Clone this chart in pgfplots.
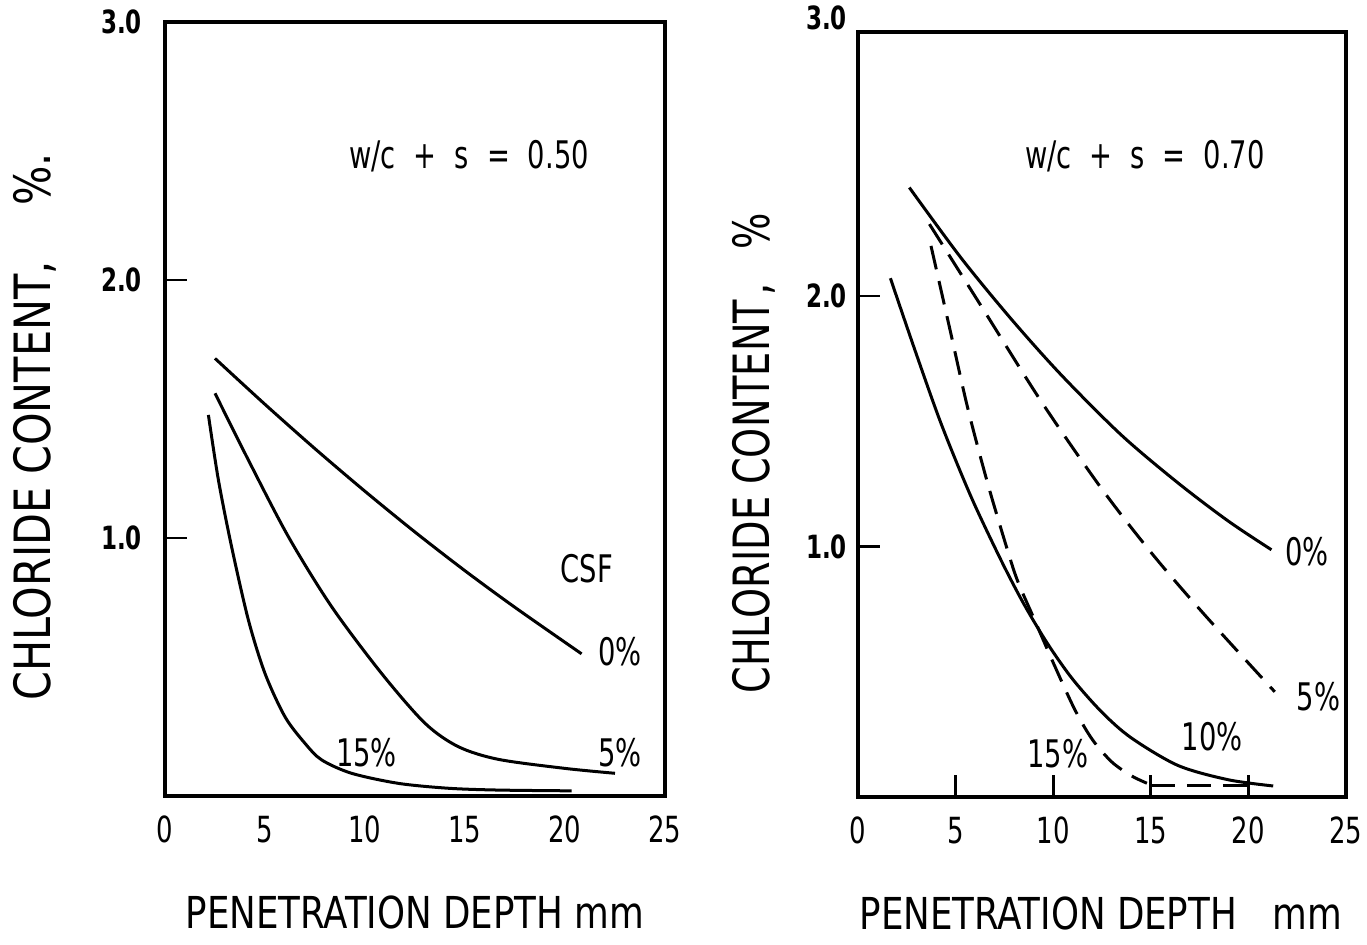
\documentclass[border=0pt]{standalone}
\usepackage{fontspec}
\setmainfont{DejaVu Sans Condensed}[FakeStretch=0.8]
\newfontfamily\xlabfont{DejaVu Sans Condensed}[FakeStretch=0.9]
\newfontfamily\ylabfontA{DejaVu Sans Condensed}[FakeStretch=0.92]
\newfontfamily\ylabfontB{DejaVu Sans Condensed}[FakeStretch=0.85]
\usepackage{pgfplots}
\pgfplotsset{compat=1.18}

\pgfplotsset{
  profile/.style={
    scale only axis,
    xmin=0, xmax=25, ymin=0,
    axis line style={line width=1.7pt},
    tick align=inside, xtick pos=bottom, ytick pos=left,
    major tick length=11pt,
    tick style={line width=1.4pt, black},
    xtick={0,5,...,25},
    xticklabels={0,5,10,15,20,25},
    ytick={1,2}, yticklabels={1.0,2.0},
    /pgf/number format/assume math mode=true,
    xticklabel style={font=\fontsize{18}{18}\selectfont, yshift=-6.5pt},
    yticklabel style={font=\fontsize{16}{16}\selectfont\bfseries},
    xlabel style={font=\xlabfont\fontsize{22}{22}\selectfont},
    every axis plot/.append style={line width=1.5pt, black, smooth, tension=0.5},
    clip=false,
  },
}
\tikzset{
  lbl/.style={font=\fontsize{19}{19}\selectfont, inner sep=0pt},
  dashedcurve/.style={dash pattern=on 12pt off 6pt},
}
\newcommand{\gap}{\hspace{9pt}}

\begin{document}
\begin{tikzpicture}
\useasboundingbox (0,0) rectangle (683.5pt,472pt);

% w/c + s = 0.50
\begin{axis}[profile,
  at={(82.5pt,74pt)}, anchor=south west,
  width=250pt, height=387pt, ymax=3,
  extra y ticks={3}, extra y tick labels={3.0},
  extra y tick style={major tick length=0pt},
  xtick style={draw=none},
  yticklabel style={xshift=-8pt},
  xlabel={PENETRATION DEPTH mm},
  xlabel style={at={(axis description cs:0.5,-0.15)}, anchor=center},
  ylabel={CHLORIDE CONTENT,\hspace{28pt}\%.},
  ylabel style={at={(axis description cs:-0.26,0.477)}, anchor=center,
    font=\ylabfontA\fontsize{25}{25}\selectfont},
]
% CSF 0 %
\addplot[solid] coordinates {(2.5,1.696) (5.0,1.518) (7.5,1.346) (10.0,1.181) (12.5,1.023) (15.0,0.873) (17.5,0.731) (20.83,0.551)};
% CSF 5 %
\addplot[solid] coordinates {(2.5,1.561) (4.17,1.302) (6.17,1.005) (8.33,0.734) (10.83,0.475) (13.0,0.282) (14.67,0.191) (16.67,0.142) (20.0,0.107) (22.5,0.088)};
% CSF 15 %
\addplot[solid] coordinates {(2.17,1.477) (2.67,1.225) (3.33,0.966) (4.17,0.682) (5.0,0.475) (6.0,0.307) (7.0,0.204) (7.83,0.140) (9.33,0.088) (11.67,0.049) (14.17,0.030) (16.67,0.023) (20.33,0.020)};

\node[lbl] at (axis cs:15.2,2.48) {w/c\gap+\gap s\gap=\gap 0.50};
\node[lbl] at (axis cs:21.1,0.883) {CSF};
\node[lbl] at (axis cs:22.75,0.56) {0\%};
\node[lbl] at (axis cs:22.75,0.167) {5\%};
\node[lbl] at (axis cs:10.08,0.167) {15\%};
\end{axis}

% w/c + s = 0.70
\begin{axis}[profile,
  at={(429pt,73.5pt)}, anchor=south west,
  width=244pt, height=382.5pt, ymax=3.054,
  extra y ticks={3.054}, extra y tick labels={3.0},
  extra y tick style={major tick length=0pt, yticklabel style={yshift=7pt}},
  yticklabel style={xshift=-2pt},
  xlabel={PENETRATION DEPTH\hspace{18pt}mm},
  xlabel style={at={(axis description cs:0.498,-0.152)}, anchor=center},
  ylabel={CHLORIDE CONTENT\hspace{2pt},\hspace{17pt}\%},
  ylabel style={at={(axis description cs:-0.213,0.449)}, anchor=center,
    font=\ylabfontB\fontsize{25}{25}\selectfont},
]
% CSF 0 %
\addplot[solid] coordinates {(2.63,2.433) (5.28,2.152) (7.85,1.908) (10.41,1.685) (13.49,1.445) (16.39,1.254) (18.96,1.102) (21.18,0.987)};
% CSF 5 %
\addplot[dashedcurve] coordinates {(3.66,2.287) (6.31,1.96) (9.38,1.58) (12.46,1.233) (15.11,0.967) (17.76,0.727) (21.35,0.42)};
% CSF 10 %
\addplot[solid] coordinates {(1.66,2.071) (2.89,1.79) (4.26,1.49) (5.79,1.199) (7.33,0.945) (8.5,0.770) (9.73,0.610) (11.0,0.470) (12.5,0.338) (14.0,0.236) (16.39,0.126) (18.96,0.069) (21.27,0.044)};
% CSF 15 %
\addplot[dashedcurve] coordinates {(3.74,2.2) (4.7,1.87) (5.62,1.553) (6.65,1.25) (7.68,0.98) (8.19,0.86) (9.0,0.715) (9.98,0.54) (11.1,0.35) (12.0,0.23) (13.0,0.14) (14.0,0.085) (14.8,0.055)};
\addplot[dashedcurve, sharp plot] coordinates {(15.0,0.045) (20.0,0.045)};

\node[lbl] at (axis cs:14.7,2.56) {w/c\gap+\gap s\gap=\gap 0.70};
\node[lbl] at (axis cs:23.0,0.98) {0\%};
\node[lbl] at (axis cs:23.6,0.40) {5\%};
\node[lbl] at (axis cs:18.15,0.24) {10\%};
\node[lbl] at (axis cs:10.24,0.174) {15\%};
\end{axis}
\end{tikzpicture}
\end{document}
